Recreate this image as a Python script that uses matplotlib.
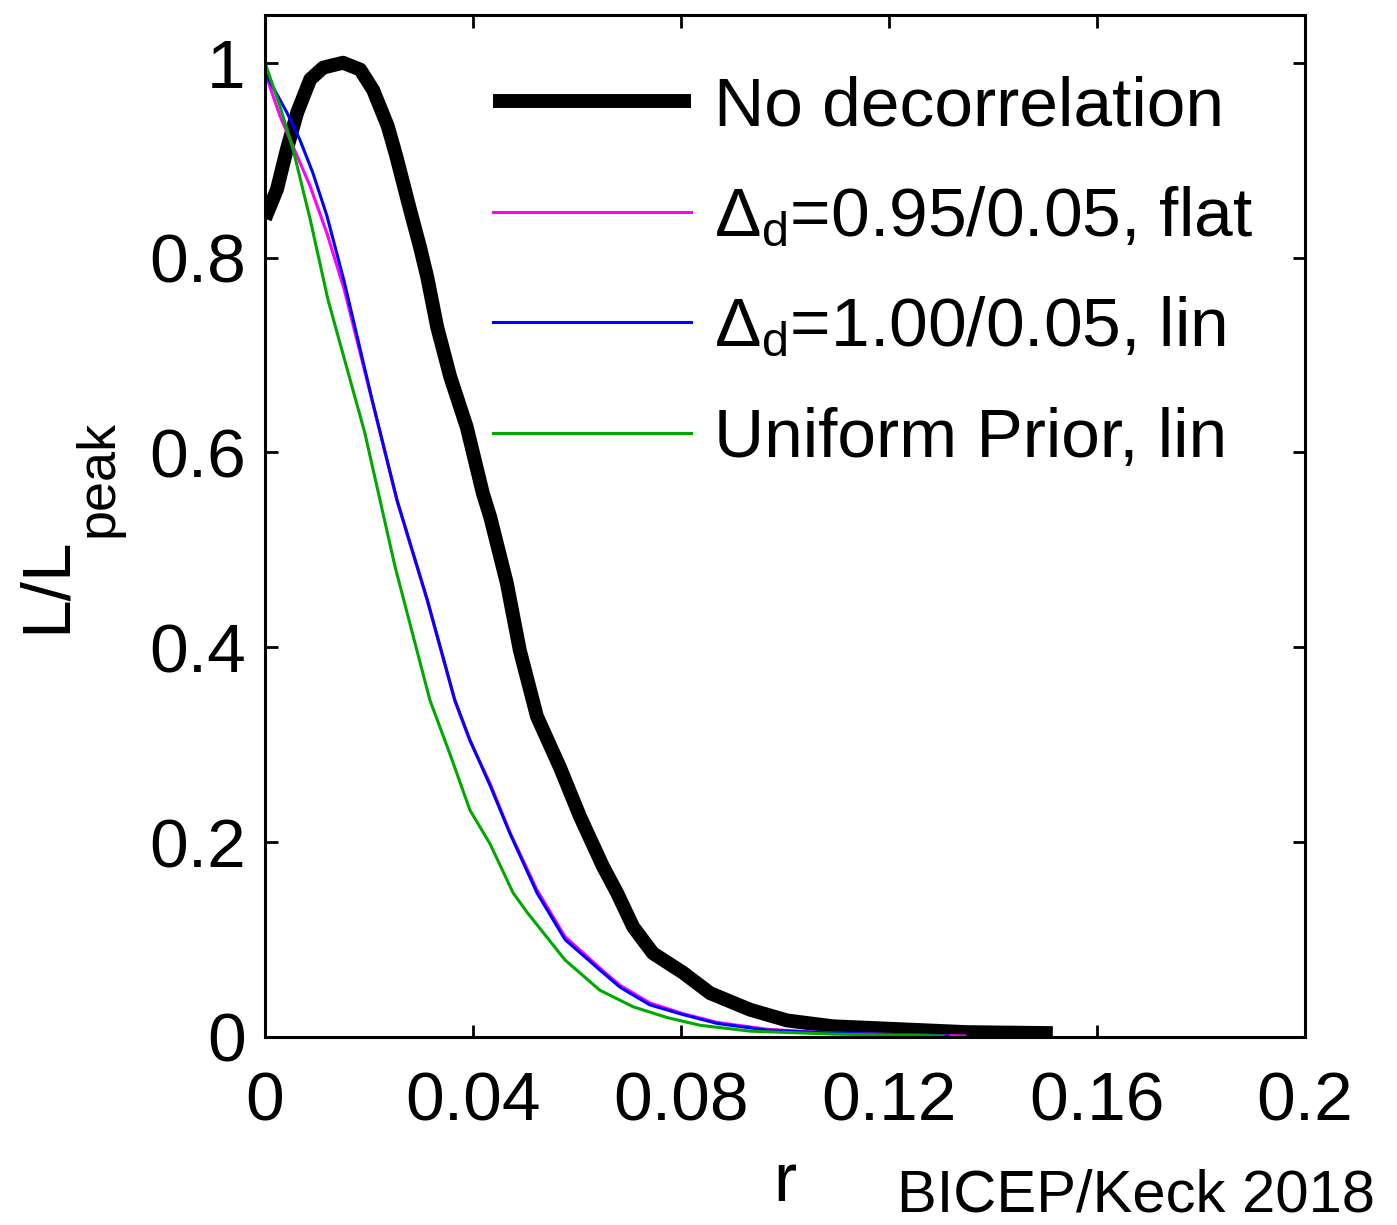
import numpy as np
import matplotlib
matplotlib.use("Agg")
from matplotlib import pyplot as plt

plt.rcParams["font.family"] = ["Liberation Sans", "DejaVu Sans"]
plt.rcParams["mathtext.fontset"] = "custom"
plt.rcParams["mathtext.rm"] = "Liberation Sans"
plt.rcParams["mathtext.it"] = "Liberation Sans"

# no decorrelation (thick black)
r_nodec = [0, 0.0023, 0.0042, 0.0062, 0.0087, 0.0112, 0.015, 0.0183, 0.0208,
           0.0236, 0.0252, 0.0279, 0.0298, 0.0312, 0.0331, 0.0356, 0.0388,
           0.0419, 0.0433, 0.0465, 0.049, 0.0523, 0.0567, 0.0606, 0.065,
           0.0677, 0.0708, 0.0746, 0.0804, 0.0856, 0.0933, 0.1004, 0.1092,
           0.1221, 0.135, 0.1515]
L_nodec = [0.84, 0.87, 0.911, 0.949, 0.983, 0.995, 1.0, 0.993, 0.972,
           0.935, 0.905, 0.849, 0.811, 0.78, 0.729, 0.678, 0.626,
           0.558, 0.534, 0.466, 0.397, 0.329, 0.277, 0.226, 0.175,
           0.148, 0.113, 0.086, 0.066, 0.045, 0.028, 0.017, 0.011,
           0.008, 0.005, 0.004]

# delta_d 0.95/0.05 flat (magenta)
r_flat = [0, 0.0029, 0.0054, 0.0087, 0.0119, 0.0152, 0.0206, 0.0254, 0.0312,
          0.0365, 0.0394, 0.0433, 0.0471, 0.0523, 0.0577, 0.065, 0.0683,
          0.074, 0.0804, 0.0869, 0.0965, 0.1092, 0.1346]
L_flat = [0.99, 0.945, 0.914, 0.873, 0.825, 0.768, 0.653, 0.55, 0.448,
          0.345, 0.304, 0.26, 0.21, 0.151, 0.103, 0.068, 0.053,
          0.035, 0.024, 0.015, 0.008, 0.004, 0.001]

# delta_d 1.00/0.05 lin (blue)
r_lin = [0, 0.0042, 0.0067, 0.0092, 0.0119, 0.0152, 0.0206, 0.0254, 0.0312,
         0.0365, 0.0394, 0.0433, 0.0471, 0.0523, 0.0577, 0.065, 0.0683,
         0.074, 0.0804, 0.0869, 0.0965, 0.1092, 0.1313]
L_lin = [0.99, 0.949, 0.921, 0.887, 0.843, 0.776, 0.654, 0.551, 0.449,
         0.346, 0.305, 0.258, 0.209, 0.148, 0.1, 0.066, 0.051,
         0.033, 0.023, 0.014, 0.007, 0.004, 0.001]

# uniform prior lin (green)
r_unif = [0, 0.0029, 0.0054, 0.0087, 0.0121, 0.0192, 0.025, 0.0317, 0.0356,
          0.0394, 0.0433, 0.0477, 0.0504, 0.0577, 0.0644, 0.0708, 0.0773,
          0.0837, 0.0933, 0.1092, 0.1304]
L_unif = [1.0, 0.955, 0.911, 0.839, 0.757, 0.62, 0.483, 0.346, 0.29,
          0.233, 0.198, 0.148, 0.128, 0.079, 0.048, 0.031, 0.02,
          0.012, 0.006, 0.003, 0.001]

labels = ["No decorrelation",
          r"$\Delta_{\mathrm{d}}$=0.95/0.05, flat",
          r"$\Delta_{\mathrm{d}}$=1.00/0.05, lin",
          "Uniform Prior, lin"]

xticks = [0, 0.04, 0.08, 0.12, 0.16, 0.2]
xticklabels = ["0", "0.04", "0.08", "0.12", "0.16", "0.2"]
yticks = [0, 0.2, 0.4, 0.6, 0.8, 1.0]
yticklabels = ["0", "0.2", "0.4", "0.6", "0.8", "1"]

fig = plt.figure(figsize=(13.97, 12.25), dpi=100)
ax = fig.add_axes([265 / 1397, 1 - 1037 / 1225, 1040 / 1397, 1022 / 1225])

ax.plot(r_nodec, L_nodec, color="black", lw=10, solid_capstyle="butt",
        solid_joinstyle="round", label=labels[0])
ax.plot(r_flat, L_flat, color="#ff00ff", lw=2.2, solid_joinstyle="round",
        label=labels[1])
ax.plot(r_lin, L_lin, color="#0000ff", lw=2.2, solid_joinstyle="round",
        label=labels[2])
ax.plot(r_unif, L_unif, color="#00a800", lw=2.2, solid_joinstyle="round",
        label=labels[3])

ax.set_xlim(0, 0.2)
ax.set_ylim(0, 1.049)
ax.set_xticks(xticks)
ax.set_xticklabels(xticklabels)
ax.set_yticks(yticks)
ax.set_yticklabels(yticklabels)
ax.tick_params(direction="in", length=9, width=2, labelsize=50,
               top=True, right=True, pad=14)
ax.tick_params(axis="x", pad=24)
for s in ax.spines.values():
    s.set_linewidth(2.2)

ax.set_xlabel("r", fontsize=50, labelpad=12)

# y label: big subscript like the original, so two pieces of text
fig.text(47 / 1397, 1 - 585 / 1225, "L/L", fontsize=50, rotation=90,
         ha="center", va="center")
fig.text(99 / 1397, 1 - 478 / 1225, "peak", fontsize=39, rotation=90,
         ha="center", va="center")

ax.legend(loc="upper left", bbox_to_anchor=(0.219, 0.941), frameon=False,
          fontsize=50, handlelength=2.85, handletextpad=0.33,
          labelspacing=0.67, borderpad=0, borderaxespad=0)

fig.text(1375 / 1397, 1 - 1212 / 1225, "BICEP/Keck 2018", fontsize=43,
         ha="right", va="baseline")

fig.savefig("out.png", dpi=100)
